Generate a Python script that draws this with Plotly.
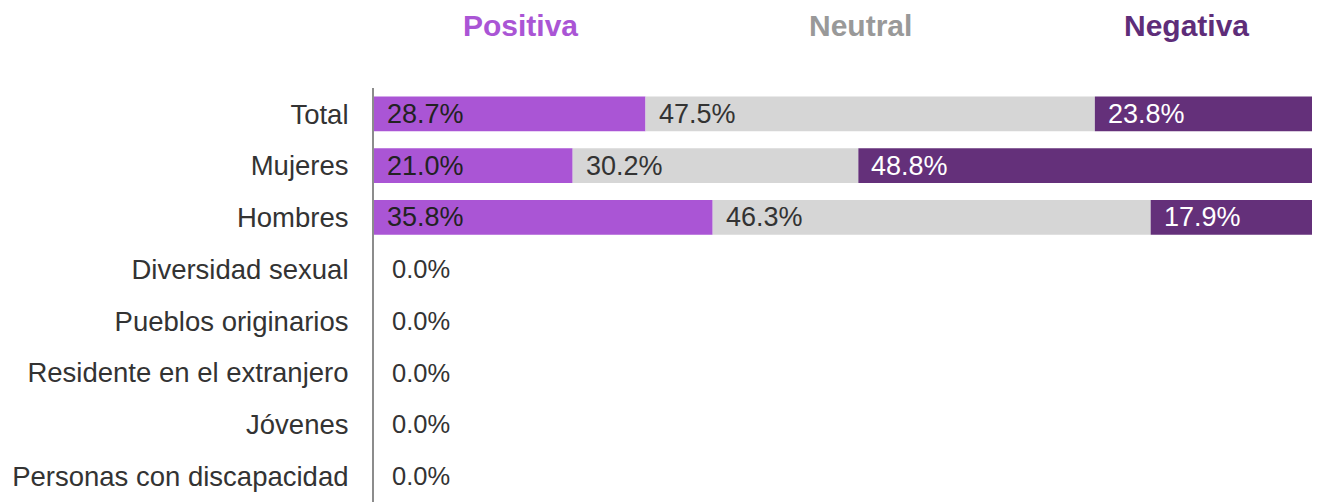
import plotly.graph_objects as go

categories = ["Total", "Mujeres", "Hombres", "Diversidad sexual", "Pueblos originarios",
              "Residente en el extranjero", "Jóvenes", "Personas con discapacidad"]
positiva = [28.7, 21.0, 35.8, 0.0, 0.0, 0.0, 0.0, 0.0]
neutral = [47.5, 30.2, 46.3, 0.0, 0.0, 0.0, 0.0, 0.0]
negativa = [23.8, 48.8, 17.9, 0.0, 0.0, 0.0, 0.0, 0.0]

series = [
    ("Positiva", positiva, "#aa55d5", "#222222"),
    ("Neutral", neutral, "#d6d6d6", "#333333"),
    ("Negativa", negativa, "#64307a", "#ffffff"),
]
header_colors = {"Positiva": "#aa55d5", "Neutral": "#999999", "Negativa": "#5e2d79"}
FONT = "Arial, Liberation Sans, sans-serif"

fig = go.Figure()
annotations = []
bases = [0.0] * len(categories)
for name, vals, color, tcolor in series:
    fig.add_trace(go.Bar(
        y=categories, x=vals, base=bases[:], orientation="h", name=name,
        marker=dict(color=color, line=dict(width=0)), hoverinfo="skip", showlegend=False,
    ))
    for i, (cat, v) in enumerate(zip(categories, vals)):
        row_total = positiva[i] + neutral[i] + negativa[i]
        if v > 0:
            annotations.append(dict(x=bases[i], y=cat, xref="x", yref="y", text=f"{v:.1f}%",
                                    xanchor="left", yanchor="middle", xshift=11, showarrow=False,
                                    font=dict(size=27, color=tcolor, family=FONT)))
        elif name == "Positiva" and row_total == 0:
            annotations.append(dict(x=bases[i], y=cat, xref="x", yref="y", text=f"{v:.1f}%",
                                    xanchor="left", yanchor="middle", xshift=16, showarrow=False,
                                    font=dict(size=25.5, color="#333333", family=FONT)))
    bases = [b + v for b, v in zip(bases, vals)]

for name, xpos in [("Positiva", 0.155), ("Neutral", 0.514), ("Negativa", 0.859)]:
    annotations.append(dict(x=xpos, y=1.152, xref="paper", yref="paper", text=name,
                            xanchor="center", yanchor="middle", showarrow=False,
                            font=dict(size=30, color=header_colors[name], family=FONT,
                                      weight="bold")))

fig.update_layout(
    barmode="overlay", bargap=0.33,
    width=1312, height=494,
    margin=dict(l=366, r=0, t=80, b=0, autoexpand=False),
    plot_bgcolor="white", paper_bgcolor="white",
    annotations=annotations,
    xaxis=dict(range=[0, 100], visible=False, fixedrange=True, automargin=False),
    yaxis=dict(autorange="reversed", showline=True, linecolor="#8c8c8c", linewidth=2,
               showgrid=False, ticks="", ticklabelstandoff=18, automargin=False,
               tickfont=dict(size=27.5, color="#333333", family=FONT)),
)
fig.write_html("out.html")
